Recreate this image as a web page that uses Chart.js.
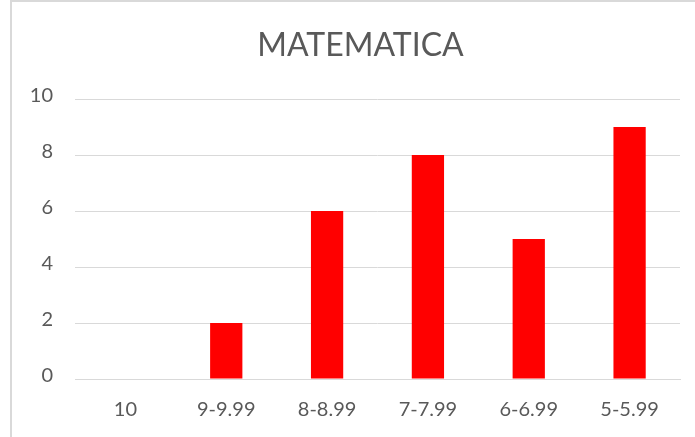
<!DOCTYPE html>
<html>
<head>
<meta charset="utf-8">
<script src="https://cdn.jsdelivr.net/npm/chart.js@4"></script>
<style>
  html, body { margin: 0; padding: 0; background: #fff; overflow: hidden; }
  .frame { position: absolute; left: 10px; top: 0; width: 700px; height: 450px; border: 2px solid #d9d9d9; box-sizing: border-box; }
  .wrap { position: absolute; left: 0; top: 0; width: 695px; height: 437px; }
</style>
</head>
<body>
<div class="frame"></div>
<div class="wrap"><canvas id="chart"></canvas></div>
<script>
// ── Data ──────────────────────────────────────────────────────────────────
const categories = ['10', '9-9.99', '8-8.99', '7-7.99', '6-6.99', '5-5.99'];
const values     = [0, 2, 6, 8, 5, 9];
const yTicks     = [0, 2, 4, 6, 8, 10];
const chartTitle = 'MATEMATICA';

const TEXT = '#595959';
const GRID = '#d9d9d9';
const FONT = 'Lato, "Noto Sans", sans-serif';

// Excel centres the title a bit left of the plot area; draw it ourselves
const titlePlugin = {
  id: 'excelTitle',
  afterDraw(chart) {
    const { ctx, chartArea } = chart;
    ctx.save();
    ctx.font = `32px ${FONT}`;
    ctx.fillStyle = TEXT;
    ctx.textAlign = 'center';
    ctx.textBaseline = 'middle';
    ctx.fillText(chartTitle, chartArea.left + (chartArea.right - chartArea.left) / 2 - 17, 46);
    ctx.restore();
  }
};

new Chart(document.getElementById('chart'), {
  type: 'bar',
  data: {
    labels: categories,
    datasets: [{
      label: chartTitle,
      data: values,
      backgroundColor: '#ff0000',
      borderWidth: 0,
      categoryPercentage: 1,
      barPercentage: 0.32
    }]
  },
  options: {
    animation: false,
    responsive: true,
    maintainAspectRatio: false,
    layout: { padding: { left: 25, right: 15, top: 99, bottom: 0 } },
    scales: {
      x: {
        grid: { display: false, drawTicks: false },
        border: { color: GRID, width: 1 },
        ticks: { color: TEXT, font: { family: FONT, size: 20 }, padding: 19 },
        afterFit: (s) => { s.height = 58; }
      },
      y: {
        min: 0,
        max: 10,
        afterBuildTicks: (s) => { s.ticks = yTicks.map(v => ({ value: v })); },
        grid: { color: GRID, drawTicks: false },
        border: { display: false },
        ticks: { color: TEXT, font: { family: FONT, size: 20 }, padding: 22, labelOffset: -3 },
        afterFit: (s) => { s.width = 50; }
      }
    },
    plugins: {
      legend: { display: false },
      tooltip: { enabled: false },
      title: { display: false }
    }
  },
  plugins: [titlePlugin]
});
</script>
</body>
</html>
